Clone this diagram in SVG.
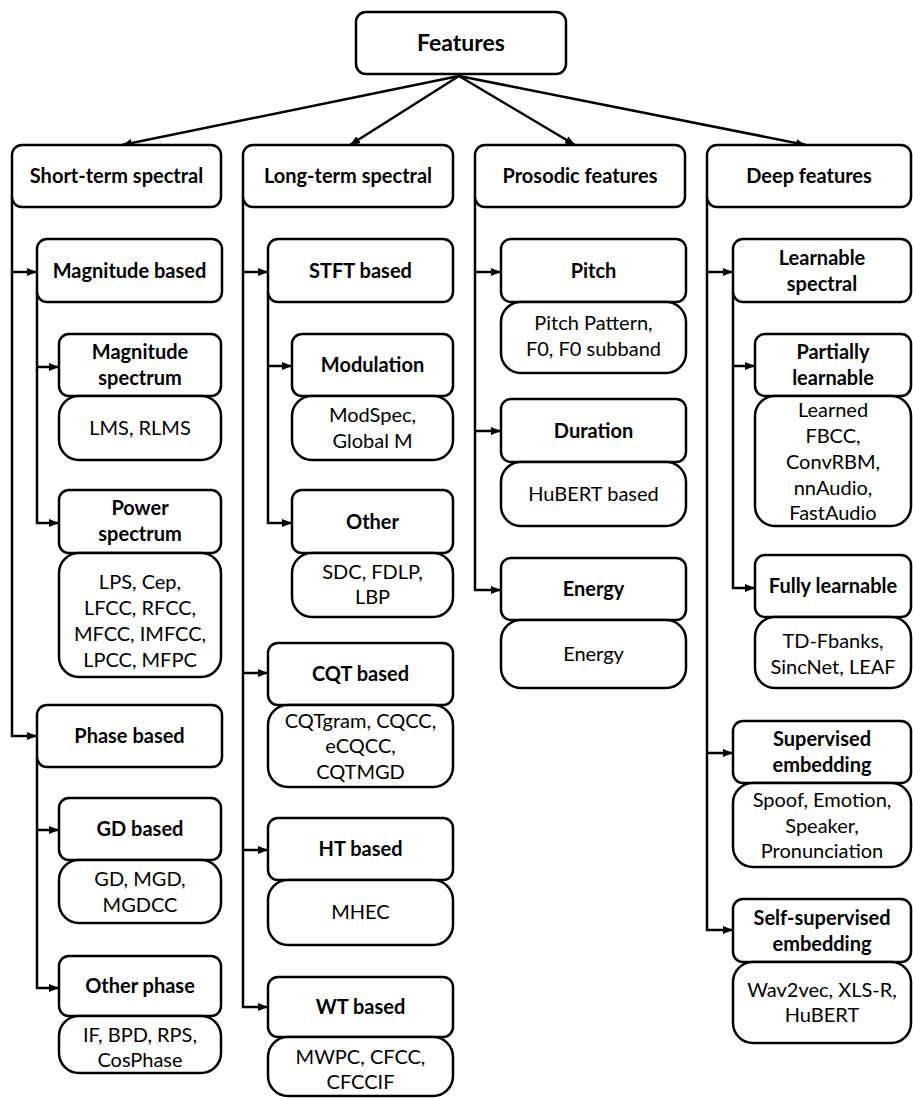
<svg xmlns="http://www.w3.org/2000/svg" width="913" height="1098" viewBox="0 0 913 1098">
<style>
  rect { fill: #ffffff; stroke: #000000; stroke-width: 2.5; }
  .h { rx: 10px; ry: 10px; }
  .v { rx: 20px; ry: 20px; }
  text { font-family: Lato, "Liberation Sans", sans-serif; font-size: 20px; fill: #000000; text-anchor: middle; }
  .b { font-weight: bold; }
  .root { font-size: 23px; font-weight: bold; }
  .c { fill: none; stroke: #000000; stroke-width: 2.5; }
  .a { marker-end: url(#arr); }
</style>
<defs>
  <marker id="arr" markerUnits="userSpaceOnUse" viewBox="0 0 10 8" markerWidth="10" markerHeight="8" refX="10" refY="4" orient="auto">
    <path d="M0,0 L10,4 L0,8 z" fill="#000000"/>
  </marker>
</defs>

<g id="connectors">
  <path class="c a" d="M459,76 L122,145"/>
  <path class="c a" d="M459,76 L350,145"/>
  <path class="c a" d="M459,76 L575,145"/>
  <path class="c a" d="M459,76 L806,145"/>
  <!-- column 1 -->
  <path class="c a" d="M12,197 V736 H37"/>
  <path class="c a" d="M12,272 H37"/>
  <path class="c a" d="M37,292 V523 H59"/>
  <path class="c a" d="M37,367 H59"/>
  <path class="c a" d="M37,757 V988 H59"/>
  <path class="c a" d="M37,830 H59"/>
  <!-- column 2 -->
  <path class="c a" d="M243,197 V1007 H268"/>
  <path class="c a" d="M243,272 H268"/>
  <path class="c a" d="M243,673 H268"/>
  <path class="c a" d="M243,850 H268"/>
  <path class="c a" d="M268,292 V523 H292"/>
  <path class="c a" d="M268,366 H292"/>
  <!-- column 3 -->
  <path class="c a" d="M475,197 V590 H501"/>
  <path class="c a" d="M475,272 H501"/>
  <path class="c a" d="M475,431 H501"/>
  <!-- column 4 -->
  <path class="c a" d="M707,197 V930 H733"/>
  <path class="c a" d="M707,272 H733"/>
  <path class="c a" d="M707,753 H733"/>
  <path class="c a" d="M733,292 V588 H755"/>
  <path class="c a" d="M733,366 H755"/>
</g>

<g id="features">
  <rect class="h" x="356" y="12" width="210" height="62"/>
  <text class="root" x="461" y="51">Features</text>
</g>

<!-- Column 1 -->
<g id="short-term">
  <rect class="h" x="12" y="145" width="209" height="62"/>
  <text class="b" x="116.5" y="183">Short-term spectral</text>
</g>
<g id="magnitude-based">
  <rect class="h" x="37" y="239" width="185" height="63"/>
  <text class="b" x="129.5" y="278">Magnitude based</text>
</g>
<g id="magnitude-spectrum">
  <rect class="h" x="59" y="334" width="162" height="62"/>
  <text class="b" x="140"><tspan x="140" y="359">Magnitude</tspan><tspan x="140" y="385">spectrum</tspan></text>
</g>
<g id="magnitude-spectrum-list">
  <rect class="v" x="59" y="396" width="162" height="64"/>
  <text x="140" y="435">LMS, RLMS</text>
</g>
<g id="power-spectrum">
  <rect class="h" x="59" y="490" width="162" height="63"/>
  <text class="b"><tspan x="140" y="515">Power</tspan><tspan x="140" y="541">spectrum</tspan></text>
</g>
<g id="power-spectrum-list">
  <rect class="v" x="59" y="553" width="162" height="124"/>
  <text><tspan x="140" y="589">LPS, Cep,</tspan><tspan x="140" y="615">LFCC, RFCC,</tspan><tspan x="140" y="641">MFCC, IMFCC,</tspan><tspan x="140" y="667">LPCC, MFPC</tspan></text>
</g>
<g id="phase-based">
  <rect class="h" x="37" y="705" width="185" height="62"/>
  <text class="b" x="129.5" y="743">Phase based</text>
</g>
<g id="gd-based">
  <rect class="h" x="59" y="798" width="162" height="62"/>
  <text class="b" x="140" y="836">GD based</text>
</g>
<g id="gd-based-list">
  <rect class="v" x="59" y="860" width="162" height="63"/>
  <text><tspan x="140" y="886">GD, MGD,</tspan><tspan x="140" y="912">MGDCC</tspan></text>
</g>
<g id="other-phase">
  <rect class="h" x="59" y="956" width="162" height="60"/>
  <text class="b" x="140" y="993">Other phase</text>
</g>
<g id="other-phase-list">
  <rect class="v" x="59" y="1016" width="162" height="57"/>
  <text><tspan x="140" y="1042">IF, BPD, RPS,</tspan><tspan x="140" y="1067">CosPhase</tspan></text>
</g>

<!-- Column 2 -->
<g id="long-term">
  <rect class="h" x="243" y="145" width="210" height="62"/>
  <text class="b" x="348" y="183">Long-term spectral</text>
</g>
<g id="stft-based">
  <rect class="h" x="268" y="239" width="185" height="63"/>
  <text class="b" x="360.5" y="278">STFT based</text>
</g>
<g id="modulation">
  <rect class="h" x="292" y="334" width="161" height="62"/>
  <text class="b" x="372.5" y="372">Modulation</text>
</g>
<g id="modulation-list">
  <rect class="v" x="292" y="396" width="161" height="64"/>
  <text><tspan x="372.5" y="422">ModSpec,</tspan><tspan x="372.5" y="448">Global M</tspan></text>
</g>
<g id="other">
  <rect class="h" x="292" y="490" width="161" height="63"/>
  <text class="b" x="372.5" y="529">Other</text>
</g>
<g id="other-list">
  <rect class="v" x="292" y="553" width="161" height="64"/>
  <text><tspan x="372.5" y="579">SDC, FDLP,</tspan><tspan x="372.5" y="604">LBP</tspan></text>
</g>
<g id="cqt-based">
  <rect class="h" x="268" y="643" width="185" height="62"/>
  <text class="b" x="360.5" y="681">CQT based</text>
</g>
<g id="cqt-based-list">
  <rect class="v" x="268" y="705" width="185" height="82"/>
  <text><tspan x="360.5" y="728">CQTgram, CQCC,</tspan><tspan x="360.5" y="753">eCQCC,</tspan><tspan x="360.5" y="779">CQTMGD</tspan></text>
</g>
<g id="ht-based">
  <rect class="h" x="268" y="818" width="185" height="62"/>
  <text class="b" x="360.5" y="856">HT based</text>
</g>
<g id="ht-based-list">
  <rect class="v" x="268" y="880" width="185" height="65"/>
  <text x="360.5" y="919">MHEC</text>
</g>
<g id="wt-based">
  <rect class="h" x="268" y="977" width="185" height="60"/>
  <text class="b" x="360.5" y="1014">WT based</text>
</g>
<g id="wt-based-list">
  <rect class="v" x="268" y="1037" width="185" height="59"/>
  <text><tspan x="360.5" y="1064">MWPC, CFCC,</tspan><tspan x="360.5" y="1089">CFCCIF</tspan></text>
</g>

<!-- Column 3 -->
<g id="prosodic">
  <rect class="h" x="475" y="145" width="210" height="62"/>
  <text class="b" x="580" y="183">Prosodic features</text>
</g>
<g id="pitch">
  <rect class="h" x="501" y="239" width="185" height="63"/>
  <text class="b" x="593.5" y="278">Pitch</text>
</g>
<g id="pitch-list">
  <rect class="v" x="501" y="302" width="185" height="71"/>
  <text><tspan x="593.5" y="330">Pitch Pattern,</tspan><tspan x="593.5" y="356">F0, F0 subband</tspan></text>
</g>
<g id="duration">
  <rect class="h" x="501" y="399" width="185" height="63"/>
  <text class="b" x="593.5" y="438">Duration</text>
</g>
<g id="duration-list">
  <rect class="v" x="501" y="462" width="185" height="64"/>
  <text x="593.5" y="501">HuBERT based</text>
</g>
<g id="energy">
  <rect class="h" x="501" y="558" width="185" height="62"/>
  <text class="b" x="593.5" y="596">Energy</text>
</g>
<g id="energy-list">
  <rect class="v" x="501" y="620" width="185" height="68"/>
  <text x="593.5" y="661">Energy</text>
</g>

<!-- Column 4 -->
<g id="deep">
  <rect class="h" x="707" y="145" width="204" height="62"/>
  <text class="b" x="809" y="183">Deep features</text>
</g>
<g id="learnable-spectral">
  <rect class="h" x="733" y="239" width="178" height="63"/>
  <text class="b"><tspan x="822" y="265">Learnable</tspan><tspan x="822" y="291">spectral</tspan></text>
</g>
<g id="partially-learnable">
  <rect class="h" x="755" y="334" width="156" height="62"/>
  <text class="b"><tspan x="833" y="359">Partially</tspan><tspan x="833" y="385">learnable</tspan></text>
</g>
<g id="partially-learnable-list">
  <rect class="v" x="755" y="396" width="156" height="130"/>
  <text><tspan x="833" y="417">Learned</tspan><tspan x="833" y="443">FBCC,</tspan><tspan x="833" y="469">ConvRBM,</tspan><tspan x="833" y="495">nnAudio,</tspan><tspan x="833" y="520">FastAudio</tspan></text>
</g>
<g id="fully-learnable">
  <rect class="h" x="755" y="555" width="156" height="62"/>
  <text class="b" x="833" y="593">Fully learnable</text>
</g>
<g id="fully-learnable-list">
  <rect class="v" x="755" y="617" width="156" height="71"/>
  <text><tspan x="833" y="648">TD-Fbanks,</tspan><tspan x="833" y="674">SincNet, LEAF</tspan></text>
</g>
<g id="supervised-embedding">
  <rect class="h" x="733" y="721" width="178" height="62"/>
  <text class="b"><tspan x="822" y="746">Supervised</tspan><tspan x="822" y="772">embedding</tspan></text>
</g>
<g id="supervised-embedding-list">
  <rect class="v" x="733" y="783" width="178" height="84"/>
  <text><tspan x="822" y="807">Spoof, Emotion,</tspan><tspan x="822" y="833">Speaker,</tspan><tspan x="822" y="858">Pronunciation</tspan></text>
</g>
<g id="self-supervised-embedding">
  <rect class="h" x="733" y="899" width="178" height="63"/>
  <text class="b"><tspan x="822" y="925">Self-supervised</tspan><tspan x="822" y="951">embedding</tspan></text>
</g>
<g id="self-supervised-embedding-list">
  <rect class="v" x="733" y="962" width="178" height="81"/>
  <text><tspan x="822" y="997">Wav2vec, XLS-R,</tspan><tspan x="822" y="1022">HuBERT</tspan></text>
</g>
</svg>
